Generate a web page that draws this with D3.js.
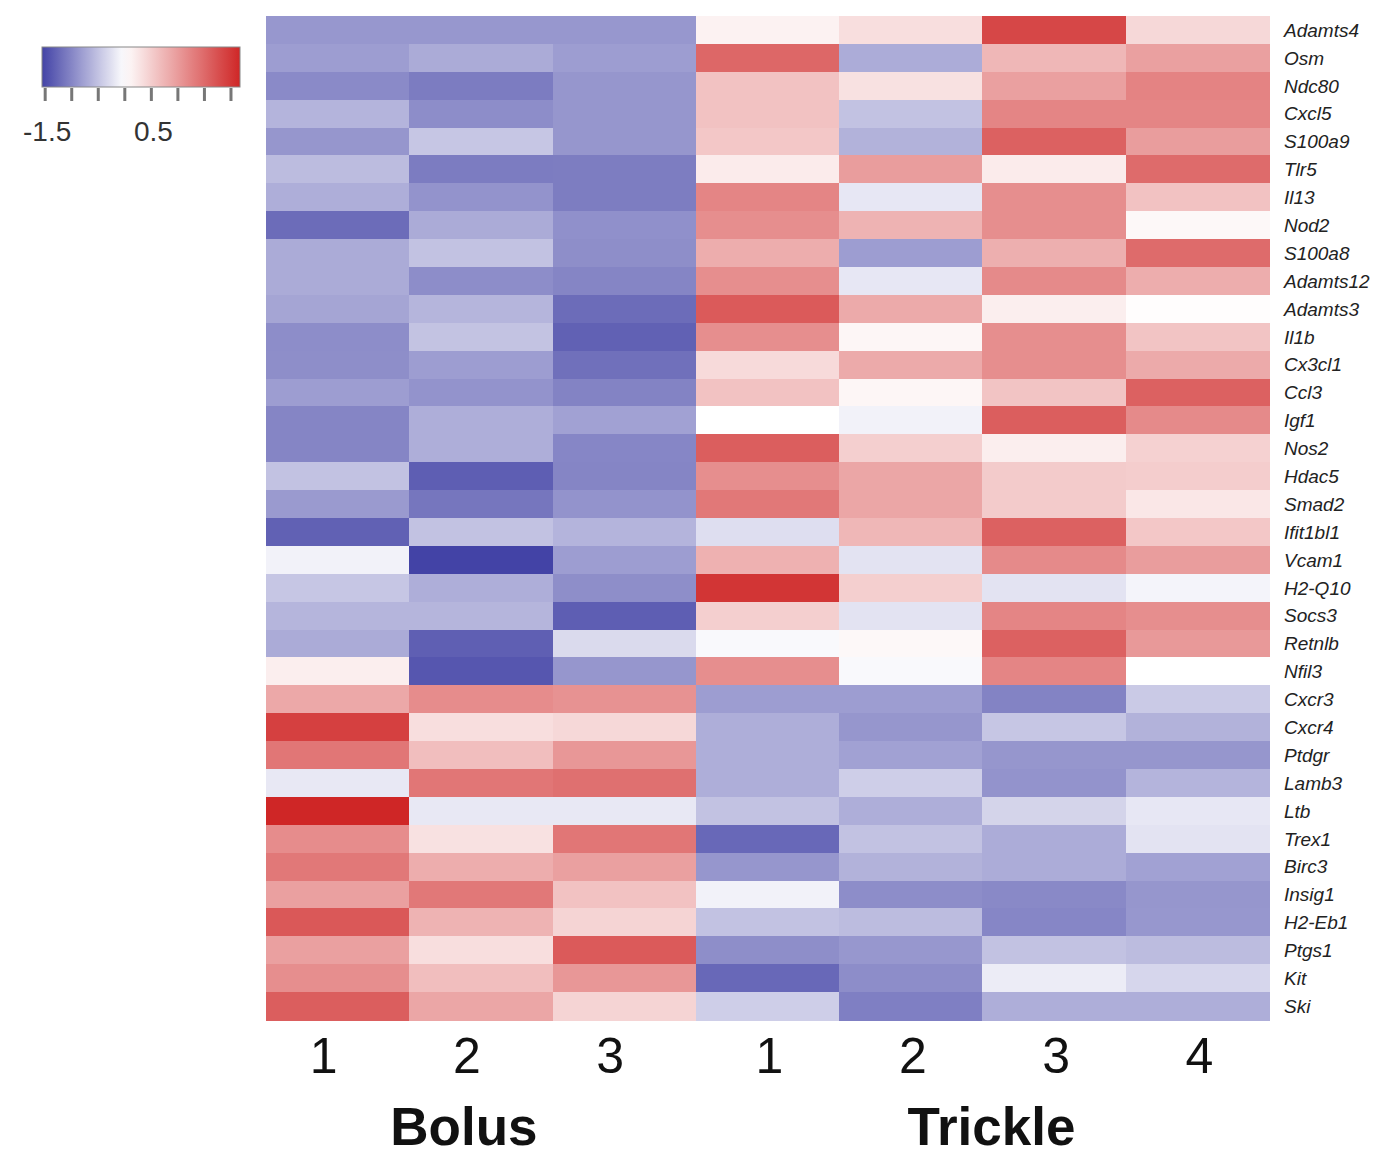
<!DOCTYPE html>
<html>
<head>
<meta charset="utf-8">
<script src="https://cdn.jsdelivr.net/npm/d3@7"></script>
<style>
  html, body { margin: 0; padding: 0; background: #ffffff; }
  svg { display: block; }
</style>
</head>
<body>
<svg id="chart" width="1382" height="1158"></svg>
<script>
// ---------------- DATA ----------------
const genes = ["Adamts4","Osm","Ndc80","Cxcl5","S100a9","Tlr5","Il13","Nod2","S100a8","Adamts12",
  "Adamts3","Il1b","Cx3cl1","Ccl3","Igf1","Nos2","Hdac5","Smad2","Ifit1bl1","Vcam1",
  "H2-Q10","Socs3","Retnlb","Nfil3","Cxcr3","Cxcr4","Ptdgr","Lamb3","Ltb","Trex1",
  "Birc3","Insig1","H2-Eb1","Ptgs1","Kit","Ski"];

const groups = ["Bolus", "Trickle"];
const sampleGroup = ["Bolus","Bolus","Bolus","Trickle","Trickle","Trickle","Trickle"];
const sampleLabels = ["1","2","3","1","2","3","4"];

const bolus1   = [-0.86,-0.81,-0.97,-0.62,-0.87,-0.56,-0.67,-1.22,-0.70,-0.70,-0.75,-0.95,-0.94,-0.81,-1.01,-1.01,-0.51,-0.84,-1.31,-0.11,-0.47,-0.61,-0.70,0.17,0.87,1.91,1.37,-0.19,2.17,1.15,1.35,0.95,1.67,0.95,1.13,1.61];
const bolus2   = [-0.86,-0.70,-1.09,-0.95,-0.47,-1.09,-0.90,-0.70,-0.51,-0.95,-0.61,-0.50,-0.81,-0.90,-0.67,-0.67,-1.34,-1.14,-0.51,-1.56,-0.67,-0.61,-1.33,-1.40,1.15,0.33,0.65,1.37,-0.19,0.30,0.82,1.35,0.76,0.33,0.65,0.89];
const bolus3   = [-0.86,-0.81,-0.87,-0.87,-0.87,-1.08,-1.08,-0.92,-0.94,-1.01,-1.22,-1.31,-1.19,-1.03,-0.78,-1.00,-1.01,-0.90,-0.62,-0.81,-0.94,-1.34,-0.31,-0.87,1.09,0.39,1.04,1.43,-0.19,1.37,0.95,0.61,0.43,1.65,1.04,0.43];
const trickle1 = [0.13,1.52,0.61,0.61,0.56,0.20,1.22,1.13,0.82,1.13,1.65,1.13,0.37,0.61,0.00,1.61,1.13,1.35,-0.27,0.78,2.02,0.48,-0.05,1.13,-0.81,-0.67,-0.67,-0.67,-0.51,-1.25,-0.87,-0.11,-0.51,-0.94,-1.25,-0.41];
const trickle2 = [0.33,-0.69,0.30,-0.51,-0.64,0.98,-0.20,0.76,-0.81,-0.20,0.85,0.09,0.85,0.09,-0.11,0.48,0.89,0.89,0.72,-0.23,0.48,-0.23,0.07,-0.05,-0.81,-0.87,-0.78,-0.41,-0.67,-0.51,-0.64,-0.95,-0.56,-0.86,-0.95,-1.06];
const trickle3 = [1.84,0.72,0.95,1.22,1.58,0.20,1.13,1.13,0.80,1.17,0.17,1.13,1.13,0.59,1.61,0.17,0.52,0.52,1.58,1.17,-0.23,1.22,1.58,1.22,-1.03,-0.47,-0.87,-0.90,-0.36,-0.69,-0.69,-0.98,-1.00,-0.51,-0.16,-0.67];
const trickle4 = [0.39,0.95,1.24,1.22,0.98,1.48,0.61,0.07,1.48,0.82,0.02,0.59,0.85,1.58,1.17,0.46,0.50,0.24,0.56,0.98,-0.09,1.13,1.02,0.00,-0.44,-0.64,-0.87,-0.62,-0.20,-0.23,-0.78,-0.87,-0.86,-0.56,-0.34,-0.67];

const series = [bolus1, bolus2, bolus3, trickle1, trickle2, trickle3, trickle4];

const legendTicks = [-1.5, -1, -0.5, 0, 0.5, 1, 1.5, 2];
const legendTickLabels = ["-1.5", "0.5"];

// ---------------- LAYOUT ----------------
const svg = d3.select("#chart");
const font = "'Liberation Sans', Arial, Helvetica, sans-serif";

const heat = { left: 266, right: 1269, top: 16, bottom: 1020 };
const sampleIds = d3.range(series.length);
// small horizontal nudges of the bottom labels, per group
const groupNudge = { Bolus: { digits: -14, title: -17 }, Trickle: { digits: 2, title: 9 } };

const x = d3.scaleBand().domain(sampleIds).range([heat.left, heat.right]).padding(0);
const y = d3.scaleBand().domain(genes).range([heat.top, heat.bottom]).padding(0);

const allVals = series.flat();
const vMin = d3.min(allVals), vMax = d3.max(allVals);
const color = d3.scaleLinear()
  .domain([vMin, 0, vMax])
  .range(["#4343a6", "#ffffff", "#cf2626"])
  .interpolate(d3.interpolateRgb);

// cells
const cells = [];
series.forEach((s, j) => s.forEach((v, i) => cells.push({ gene: genes[i], col: j, v })));

svg.append("g").selectAll("rect").data(cells).join("rect")
  .attr("x", d => x(d.col))
  .attr("y", d => y(d.gene))
  .attr("width", x.bandwidth() + 0.6)
  .attr("height", y.bandwidth() + 0.6)
  .attr("fill", d => color(d.v))
  .attr("shape-rendering", "crispEdges");

// row labels
svg.append("g").selectAll("text").data(genes).join("text")
  .attr("x", heat.right + 15)
  .attr("y", d => y(d) + y.bandwidth() / 2)
  .attr("dy", "0.36em")
  .attr("font-family", font)
  .attr("font-style", "italic")
  .attr("font-size", 19)
  .attr("fill", "#222")
  .text(d => d);

// column labels
svg.append("g").selectAll("text").data(sampleIds).join("text")
  .attr("x", d => x(d) + x.bandwidth() / 2 + groupNudge[sampleGroup[d]].digits)
  .attr("y", 1073)
  .attr("text-anchor", "middle")
  .attr("font-family", font)
  .attr("font-size", 50)
  .attr("fill", "#111")
  .text(d => sampleLabels[d]);

// group labels
svg.append("g").selectAll("text").data(groups).join("text")
  .attr("x", g => {
    const idx = sampleIds.filter(i => sampleGroup[i] === g);
    return (x(idx[0]) + x(idx[idx.length - 1]) + x.bandwidth()) / 2 + groupNudge[g].title;
  })
  .attr("y", 1145)
  .attr("text-anchor", "middle")
  .attr("font-family", font)
  .attr("font-weight", "bold")
  .attr("font-size", 53)
  .attr("fill", "#111")
  .text(d => d);

// ---------------- LEGEND ----------------
const lg = { left: 42, right: 240, top: 47, bottom: 87 };
const lx = d3.scaleLinear().domain([vMin, vMax]).range([lg.left, lg.right]);

const defs = svg.append("defs");
const grad = defs.append("linearGradient").attr("id", "lgGrad")
  .attr("x1", "0%").attr("x2", "100%").attr("y1", "0%").attr("y2", "0%");
d3.range(0, 1.0001, 0.05).forEach(t => {
  const v = vMin + t * (vMax - vMin);
  grad.append("stop").attr("offset", (t * 100) + "%").attr("stop-color", color(v));
});

svg.append("rect")
  .attr("x", lg.left).attr("y", lg.top)
  .attr("width", lg.right - lg.left).attr("height", lg.bottom - lg.top)
  .attr("fill", "url(#lgGrad)")
  .attr("stroke", "#888").attr("stroke-width", 1);

svg.append("g").selectAll("line").data(legendTicks).join("line")
  .attr("x1", d => lx(d)).attr("x2", d => lx(d))
  .attr("y1", lg.bottom + 1).attr("y2", lg.bottom + 14)
  .attr("stroke", "#777").attr("stroke-width", 3);

svg.append("g").selectAll("text").data(legendTickLabels).join("text")
  .attr("x", d => lx(+d) + 2)
  .attr("y", 141)
  .attr("text-anchor", "middle")
  .attr("font-family", font)
  .attr("font-size", 28)
  .attr("fill", "#333")
  .text(d => d);
</script>
</body>
</html>
